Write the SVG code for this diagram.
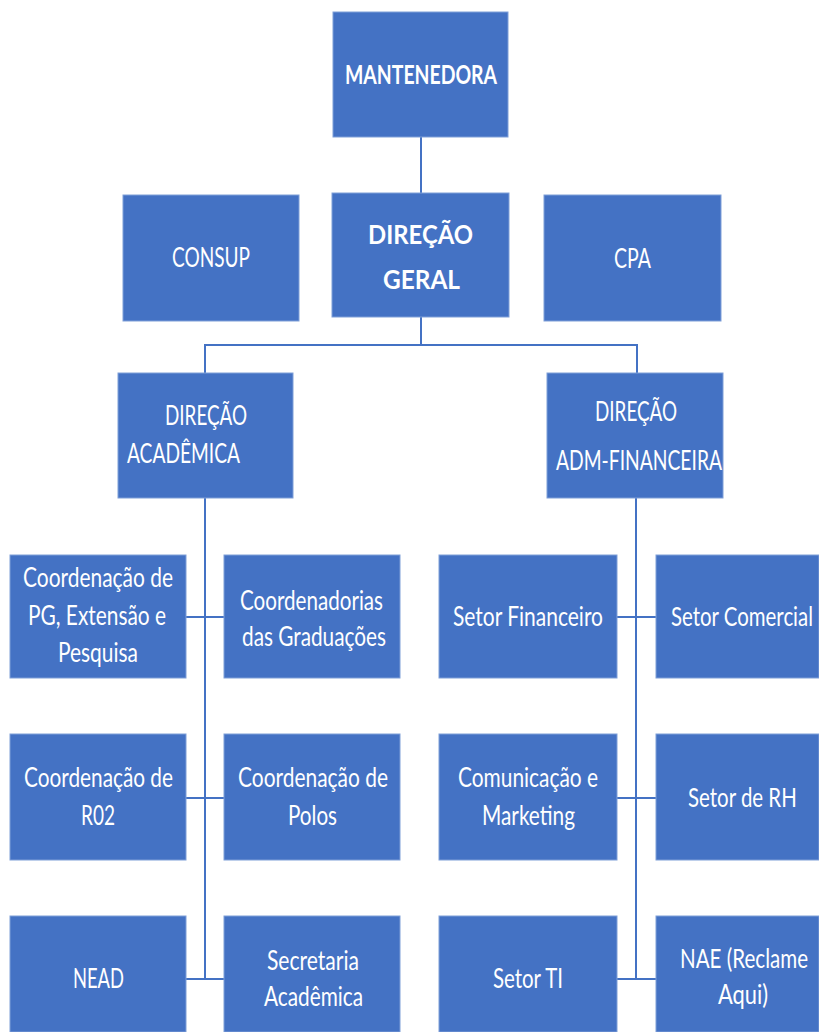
<svg xmlns="http://www.w3.org/2000/svg" width="819" height="1032" viewBox="0 0 819 1032">
<style>
.box{fill:#4472C4;stroke:#7f9fd8;stroke-width:1}
.t{fill:#ffffff;font-family:Lato,"Open Sans","Liberation Sans",sans-serif;font-size:26px}
.b{font-weight:bold}
.conn line{stroke:#4472C4;stroke-width:2}
</style>
<rect width="819" height="1032" fill="#ffffff"/>
<g id="connectors" class="conn">
<line x1="421" y1="137" x2="421" y2="193"/>
<line x1="421" y1="317" x2="421" y2="345"/>
<line x1="204" y1="345" x2="638" y2="345"/>
<line x1="205" y1="345" x2="205" y2="373"/>
<line x1="637" y1="345" x2="637" y2="373"/>
<line x1="205" y1="498" x2="205" y2="980"/>
<line x1="636" y1="498" x2="636" y2="980"/>
<line x1="186" y1="617" x2="224" y2="617"/>
<line x1="617" y1="617" x2="656" y2="617"/>
<line x1="186" y1="798" x2="224" y2="798"/>
<line x1="617" y1="798" x2="656" y2="798"/>
<line x1="186" y1="979" x2="224" y2="979"/>
<line x1="617" y1="979" x2="656" y2="979"/>
</g>
<g id="mantenedora"><rect class="box" x="333" y="12" width="175" height="125"/><text class="t b" x="345" y="84" font-size="28" textLength="152" lengthAdjust="spacingAndGlyphs">MANTENEDORA</text></g>
<g id="consup"><rect class="box" x="123" y="195" width="176" height="126"/><text class="t" x="172" y="267" font-size="28" textLength="78" lengthAdjust="spacingAndGlyphs">CONSUP</text></g>
<g id="direcao-geral"><rect class="box" x="332" y="193" width="177" height="124"/><text class="t b" x="368" y="244" font-size="33" textLength="105" lengthAdjust="spacingAndGlyphs">DIREÇÃO</text><text class="t b" x="383" y="289" font-size="33" textLength="77" lengthAdjust="spacingAndGlyphs">GERAL</text></g>
<g id="cpa"><rect class="box" x="544" y="195" width="177" height="126"/><text class="t" x="614" y="268" font-size="28" textLength="37" lengthAdjust="spacingAndGlyphs">CPA</text></g>
<g id="direcao-academica"><rect class="box" x="118" y="373" width="175" height="125"/><text class="t" x="165" y="425" font-size="25" textLength="82" lengthAdjust="spacingAndGlyphs">DIREÇÃO</text><text class="t" x="127" y="463" font-size="25" textLength="113" lengthAdjust="spacingAndGlyphs">ACADÊMICA</text></g>
<g id="direcao-adm"><rect class="box" x="547" y="373" width="176" height="125"/><text class="t" x="595" y="421" font-size="25" textLength="82" lengthAdjust="spacingAndGlyphs">DIREÇÃO</text><text class="t" x="556" y="470" font-size="25" textLength="166" lengthAdjust="spacingAndGlyphs">ADM-FINANCEIRA</text></g>
<g id="coord-pg"><rect class="box" x="10" y="555" width="176" height="123"/><text class="t" x="23" y="587" textLength="150" lengthAdjust="spacingAndGlyphs">Coordenação de</text><text class="t" x="28" y="625" textLength="138" lengthAdjust="spacingAndGlyphs">PG, Extensão e</text><text class="t" x="58" y="662" textLength="80" lengthAdjust="spacingAndGlyphs">Pesquisa</text></g>
<g id="coordenadorias"><rect class="box" x="224" y="555" width="176" height="123"/><text class="t" x="240" y="610" textLength="143" lengthAdjust="spacingAndGlyphs">Coordenadorias</text><text class="t" x="242" y="646" textLength="144" lengthAdjust="spacingAndGlyphs">das Graduações</text></g>
<g id="setor-financeiro"><rect class="box" x="439" y="555" width="178" height="123"/><text class="t" x="453" y="626" textLength="150" lengthAdjust="spacingAndGlyphs">Setor Financeiro</text></g>
<g id="setor-comercial"><rect class="box" x="656" y="555" width="163" height="123"/><text class="t" transform="translate(671,626) scale(0.8,1)" x="0" y="0" textLength="177.5" lengthAdjust="spacingAndGlyphs">Setor Comercial</text></g>
<g id="coord-r02"><rect class="box" x="10" y="734" width="176" height="126"/><text class="t" x="24" y="787" textLength="149" lengthAdjust="spacingAndGlyphs">Coordenação de</text><text class="t" x="81" y="825" textLength="34" lengthAdjust="spacingAndGlyphs">R02</text></g>
<g id="coord-polos"><rect class="box" x="224" y="734" width="176" height="126"/><text class="t" x="238" y="787" textLength="150" lengthAdjust="spacingAndGlyphs">Coordenação de</text><text class="t" x="288" y="825" textLength="49" lengthAdjust="spacingAndGlyphs">Polos</text></g>
<g id="comunicacao"><rect class="box" x="439" y="734" width="178" height="126"/><text class="t" x="458" y="787" textLength="140" lengthAdjust="spacingAndGlyphs">Comunicação e</text><text class="t" x="482" y="825" textLength="93" lengthAdjust="spacingAndGlyphs">Marketing</text></g>
<g id="setor-rh"><rect class="box" x="656" y="734" width="163" height="126"/><text class="t" transform="translate(688,807) scale(0.8,1)" x="0" y="0" textLength="136" lengthAdjust="spacingAndGlyphs">Setor de RH</text></g>
<g id="nead"><rect class="box" x="10" y="916" width="176" height="116"/><text class="t" x="73" y="988" textLength="51" lengthAdjust="spacingAndGlyphs">NEAD</text></g>
<g id="secretaria"><rect class="box" x="224" y="916" width="176" height="116"/><text class="t" x="267" y="970" textLength="92" lengthAdjust="spacingAndGlyphs">Secretaria</text><text class="t" x="264" y="1006" textLength="99" lengthAdjust="spacingAndGlyphs">Acadêmica</text></g>
<g id="setor-ti"><rect class="box" x="439" y="916" width="178" height="116"/><text class="t" x="493" y="988" textLength="70" lengthAdjust="spacingAndGlyphs">Setor TI</text></g>
<g id="nae"><rect class="box" x="656" y="916" width="163" height="116"/><text class="t" transform="translate(680,968) scale(0.8,1)" x="0" y="0" textLength="160" lengthAdjust="spacingAndGlyphs">NAE (Reclame</text><text class="t" x="718" y="1004" textLength="50" lengthAdjust="spacingAndGlyphs">Aqui)</text></g>
</svg>
